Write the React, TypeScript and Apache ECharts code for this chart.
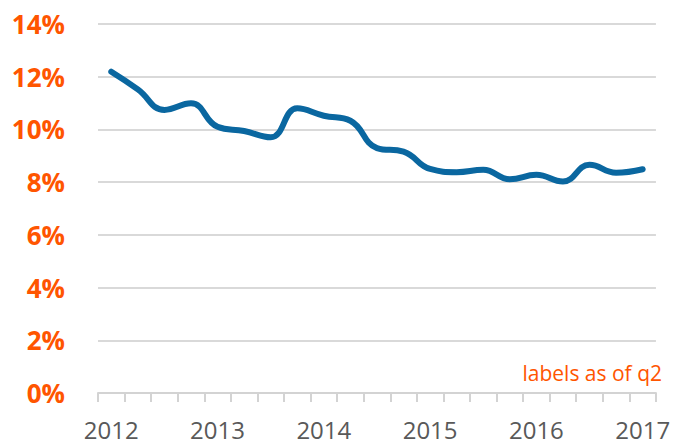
import React, { useEffect, useRef } from "react";
import * as echarts from "echarts";

const quarters = [
  "2012 Q2", "2012 Q3", "2012 Q4", "2013 Q1",
  "2013 Q2", "2013 Q3", "2013 Q4", "2014 Q1",
  "2014 Q2", "2014 Q3", "2014 Q4", "2015 Q1",
  "2015 Q2", "2015 Q3", "2015 Q4", "2016 Q1",
  "2016 Q2", "2016 Q3", "2016 Q4", "2017 Q1",
  "2017 Q2",
];
const values = [
  12.19, 11.52, 10.74, 10.99,
  10.1, 9.94, 9.7, 10.8,
  10.52, 10.33, 9.29, 9.16,
  8.5, 8.38, 8.47, 8.11,
  8.28, 8.02, 8.66, 8.36,
  8.49,
];
const yTicks = [0, 2, 4, 6, 8, 10, 12, 14];
const note = "labels as of q2";

export default function App() {
  const ref = useRef<HTMLDivElement>(null);
  useEffect(() => {
    document.body.style.margin = "0";
    if (!ref.current) return;
    const chart = echarts.init(ref.current, undefined, { renderer: "svg" });
    chart.setOption({
      animation: false,
      backgroundColor: "#ffffff",
      grid: { left: 98, right: 13, top: 24, bottom: 51 },
      xAxis: {
        type: "category",
        data: quarters,
        boundaryGap: true,
        axisLine: { lineStyle: { color: "#d3d3d3", width: 2 } },
        axisTick: {
          show: true,
          interval: 0,
          length: 9,
          lineStyle: { color: "#d3d3d3", width: 2 },
        },
        axisLabel: {
          interval: 3,
          margin: 24,
          color: "#595959",
          fontSize: 24,
          fontFamily: "Open Sans",
          formatter: (v: string) => v.slice(0, 4),
        },
        splitLine: { show: false },
      },
      yAxis: {
        type: "value",
        min: yTicks[0],
        max: yTicks[yTicks.length - 1],
        interval: 2,
        axisLine: { show: false },
        axisTick: { show: false },
        axisLabel: {
          margin: 33,
          color: "#ff5500",
          fontSize: 26,
          fontWeight: "bold",
          fontFamily: "Open Sans",
          formatter: (v: number) => v + "%",
        },
        splitLine: { lineStyle: { color: "#d9d9d9", width: 2 } },
      },
      series: [
        {
          type: "line",
          data: values,
          smooth: 0.45,
          symbol: "none",
          lineStyle: { color: "#0a67a0", width: 6, cap: "round" },
        },
      ],
      graphic: [
        {
          type: "text",
          right: 11,
          top: 362,
          style: {
            text: note,
            fill: "#ff5500",
            fontSize: 21,
            fontFamily: "Open Sans",
          },
        },
      ],
    });
    return () => chart.dispose();
  }, []);
  return <div ref={ref} style={{ width: 673, height: 444 }} />;
}
